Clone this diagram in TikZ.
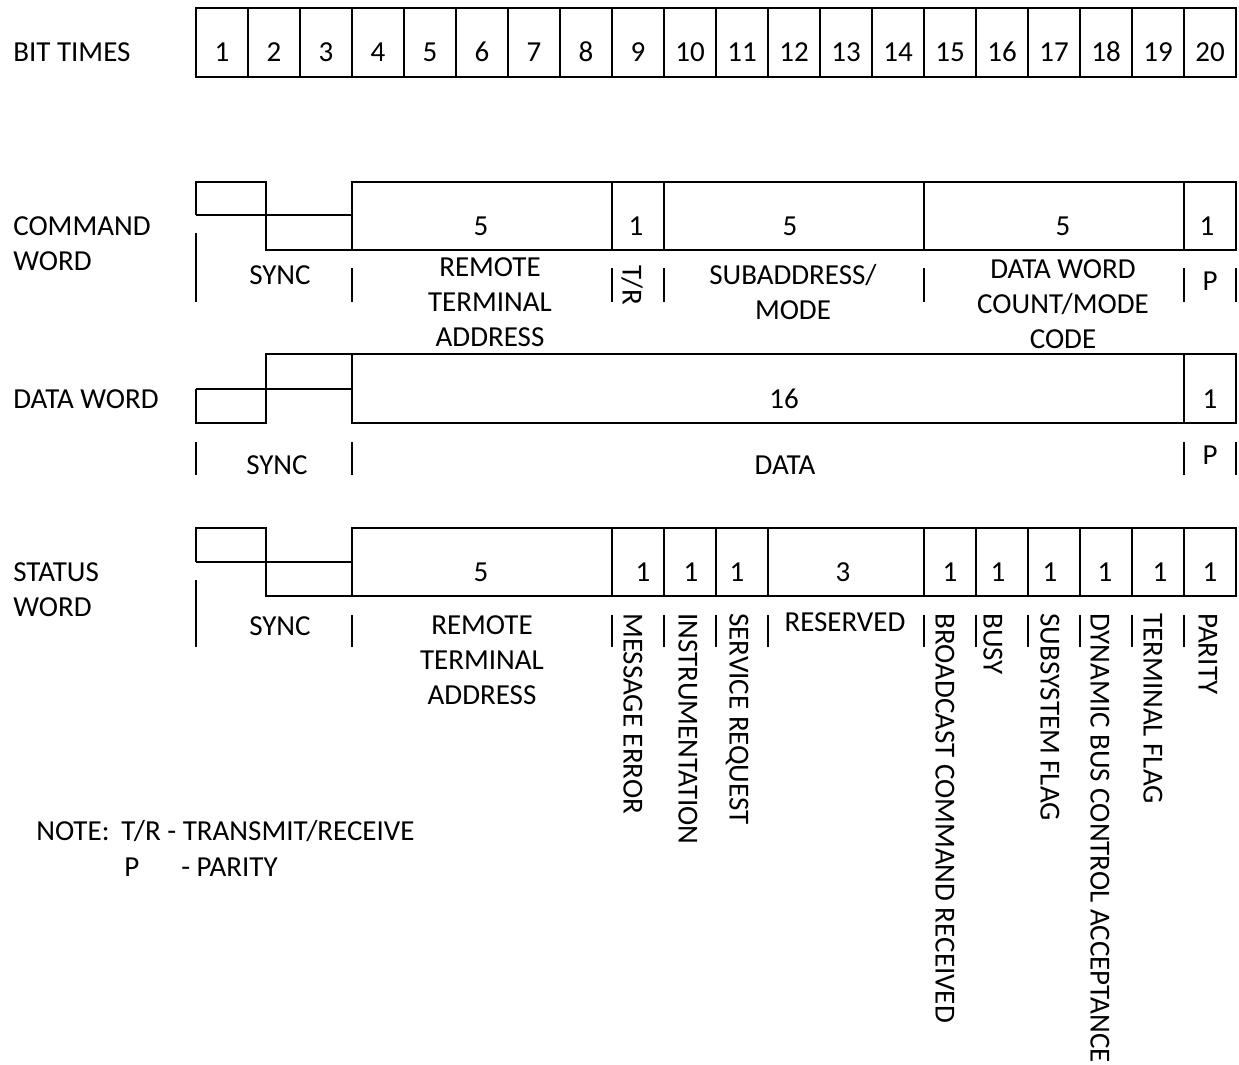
\documentclass[tikz,border=0pt]{standalone}
\usepackage{fontspec}
\setmainfont{Carlito}
\usetikzlibrary{positioning}

\begin{document}
\begin{tikzpicture}[x=0.5pt,y=-0.5pt,line width=1.3pt,
        every node/.style={font=\fontsize{14.5}{17.6}\selectfont, inner sep=0pt},
        lbl/.style={anchor=west, align=left},
        fld/.style={align=center},
        vlbl/.style={rotate=-90, anchor=west}]
    \useasboundingbox (0,0) rectangle (1239,1065);

    % bit times
    \node[lbl] (bittimes) at (12,52) {BIT TIMES};
    \draw (196,8) rectangle (1236,77);
    \foreach \i in {1,...,19} \draw ({196+52*\i},8) -- ({196+52*\i},77);
    \foreach \i in {1,...,20} \node (bt\i) at ({170+52*\i},52) {\i};

    % command word
    \node[lbl] (cmdword) at (12,244) {COMMAND\\WORD};
    \draw (196,215) -- (196,182) -- (266,182) -- (266,250) -- (352,250);
    \draw (196,215) -- (352,215);
    \draw (352,182) rectangle (1236,250);
    \foreach \x in {612,664,924,1184} \draw (\x,182) -- (\x,250);
    \node (cmdrt) at (481,226) {5};
    \node (cmdtr) at (636,226) {1};
    \node (cmdsa) at (790,226) {5};
    \node (cmdwc) at (1063,226) {5};
    \node (cmdp) at (1207,226) {1};
    \draw (196,233) -- (196,302);
    \foreach \x in {352,612,664,924,1184,1236} \draw (\x,268) -- (\x,302);
    \node (cmdsync) at (280,275) {SYNC};
    \node[fld] (cmdrtl) at (490,302) {REMOTE\\TERMINAL\\ADDRESS};
    \node[rotate=-90] (cmdtrl) at (632,285) {T/R};
    \node[fld] (cmdsal) at (793,292) {SUBADDRESS/\\MODE};
    \node[fld] (cmdwcl) at (1063,304) {DATA WORD\\COUNT/MODE\\CODE};
    \node (cmdpl) at (1210,281) {P};

    % data word
    \node[lbl] (dataword) at (12,399) {DATA WORD};
    \draw (196,389) -- (196,423) -- (266,423) -- (266,354) -- (352,354);
    \draw (196,389) -- (352,389);
    \draw (352,354) rectangle (1236,423);
    \draw (1184,354) -- (1184,423);
    \node (datad) at (784,399) {16};
    \node (datap) at (1210,399) {1};
    \foreach \x in {196,352,1184,1236} \draw (\x,442) -- (\x,475);
    \node (datasync) at (277,465) {SYNC};
    \node (datadl) at (785,465) {DATA};
    \node (datapl) at (1210,455) {P};

    % status word
    \node[lbl] (statword) at (12,590) {STATUS\\WORD};
    \draw (196,562) -- (196,528) -- (266,528) -- (266,596) -- (352,596);
    \draw (196,562) -- (352,562);
    \draw (352,528) rectangle (1236,596);
    \foreach \x in {612,664,716,768,924,976,1028,1080,1132,1184} \draw (\x,528) -- (\x,596);
    \node (strt) at (481,572) {5};
    \foreach \x/\n in {643/me,691/in,737/sr,950/bc,998/bu,1050/ss,1105/dy,1160/tf,1210/pa}
        \node (st\n) at (\x,572) {1};
    \node (strs) at (843,572) {3};
    \draw (196,580) -- (196,647);
    \foreach \x in {352,612,664,716,768,924,976,1028,1080,1132,1184} \draw (\x,615) -- (\x,647);
    \node (stsync) at (280,626) {SYNC};
    \node[fld] (strtl) at (482,660) {REMOTE\\TERMINAL\\ADDRESS};
    \node (strsl) at (845,622) {RESERVED};
    \node[vlbl] (stmel) at (633,612) {MESSAGE ERROR};
    \node[vlbl] (stinl) at (688,612) {INSTRUMENTATION};
    \node[vlbl] (stsrl) at (737,612) {SERVICE REQUEST};
    \node[vlbl] (stbcl) at (945,612) {BROADCAST COMMAND RECEIVED};
    \node[vlbl] (stbul) at (993,612) {BUSY};
    \node[vlbl] (stssl) at (1050,612) {SUBSYSTEM FLAG};
    \node[vlbl] (stdyl) at (1100,612) {DYNAMIC BUS CONTROL ACCEPTANCE};
    \node[vlbl] (sttfl) at (1153,612) {TERMINAL FLAG};
    \node[vlbl] (stpal) at (1208,612) {PARITY};

    % note
    \node[lbl] (note) at (35,831) {NOTE:};
    \node[lbl] (notetr) at (120,831) {T/R - TRANSMIT/RECEIVE};
    \node[lbl] (notep) at (123,867) {P};
    \node[lbl] (notepx) at (180,867) {- PARITY};
\end{tikzpicture}
\end{document}
